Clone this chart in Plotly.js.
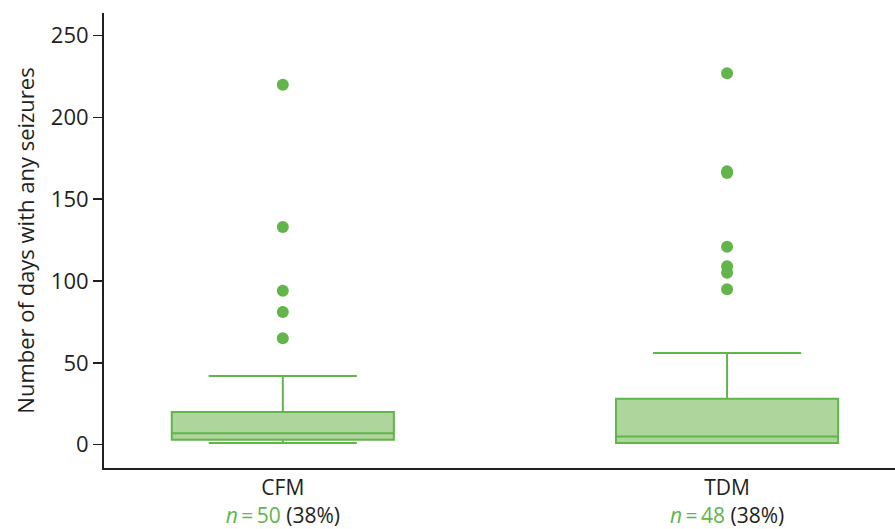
<!DOCTYPE html>
<html>
<head>
<meta charset="utf-8">
<script src="https://cdn.plot.ly/plotly-3.0.1.min.js"></script>
<style>html,body{margin:0;padding:0;background:#fff;}#chart{width:895px;height:529px;}</style>
</head>
<body>
<div id="chart"></div>
<script>
// Data
const categories = ['CFM', 'TDM'];
const nCounts = [50, 48];
const nPercents = ['38%', '38%'];
const q1 = [3, 1];
const median = [7, 5];
const q3 = [20, 28];
const lowerFence = [1, 1];
const upperFence = [42, 56];
const cfmOutliers = [220, 133, 94, 81, 65];
const tdmOutliers = [227, 167, 166, 121, 109, 105, 95];

const green = '#62b54a';
const fill = '#aed59c';
const dark = '#231f20';

const outX = cfmOutliers.map(() => categories[0]).concat(tdmOutliers.map(() => categories[1]));
const outY = cfmOutliers.concat(tdmOutliers);

const tickText = categories.map((c, i) =>
  c + '<br><span style="color:' + green + '"><i>n</i>\u2009=\u2009' + nCounts[i] + '</span> (' + nPercents[i] + ')');

const traces = [
  {
    type: 'box',
    x: categories,
    q1: q1,
    median: median,
    q3: q3,
    lowerfence: lowerFence,
    upperfence: upperFence,
    boxpoints: false,
    width: 0.5,
    whiskerwidth: 0.667,
    fillcolor: fill,
    line: {color: green, width: 2},
    hoverinfo: 'skip',
    showlegend: false
  },
  {
    type: 'scatter',
    mode: 'markers',
    x: outX,
    y: outY,
    marker: {color: green, size: 12},
    hoverinfo: 'skip',
    showlegend: false
  }
];

const layout = {
  width: 895,
  height: 529,
  margin: {l: 104, r: 0, t: 13, b: 61, pad: 0},
  paper_bgcolor: '#ffffff',
  plot_bgcolor: '#ffffff',
  font: {family: '"Open Sans", "Noto Sans", sans-serif', size: 22, color: dark},
  showlegend: false,
  xaxis: {
    type: 'category',
    range: [-0.4025, 1.378],
    tickvals: categories,
    ticktext: tickText,
    showline: true,
    linecolor: dark,
    linewidth: 2,
    ticks: '',
    showgrid: false,
    zeroline: false,
    tickfont: {size: 21, color: dark},
    fixedrange: true
  },
  yaxis: {
    range: [-14.3, 263.8],
    tickvals: [0, 50, 100, 150, 200, 250],
    showline: true,
    linecolor: dark,
    linewidth: 2,
    ticks: 'outside',
    ticklen: 9,
    tickwidth: 1.5,
    tickcolor: dark,
    showgrid: false,
    zeroline: false,
    tickfont: {size: 22, color: dark},
    title: {text: 'Number of days with any seizures', font: {size: 22, color: dark}, standoff: 10},
    fixedrange: true
  }
};

Plotly.newPlot('chart', traces, layout, {displayModeBar: false, staticPlot: true});
</script>
</body>
</html>
